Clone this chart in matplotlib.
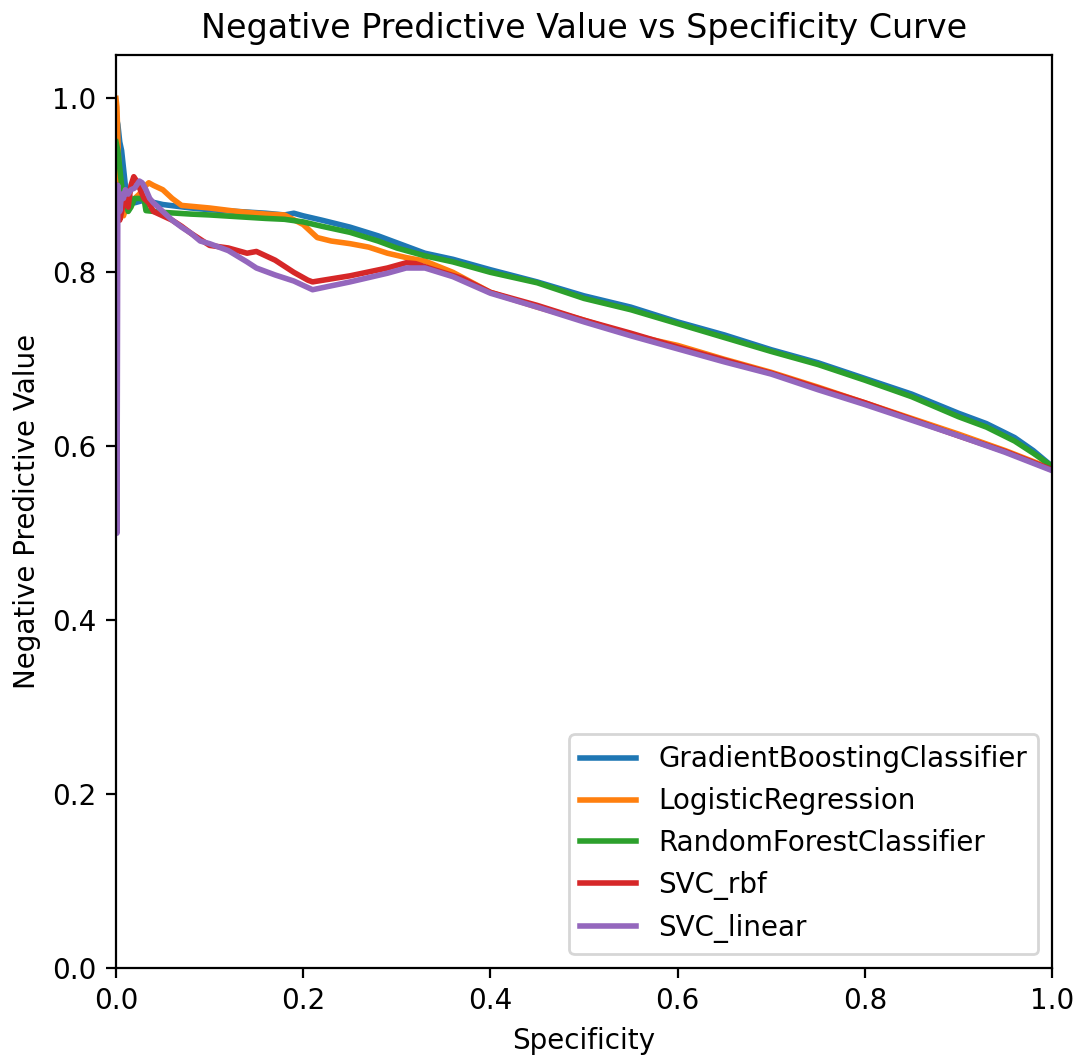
import matplotlib
matplotlib.use('Agg')
import matplotlib.pyplot as plt

labels = ['GradientBoostingClassifier', 'LogisticRegression',
          'RandomForestClassifier', 'SVC_rbf', 'SVC_linear']

gb_x = [0.0, 0.002, 0.004, 0.006, 0.008, 0.010, 0.013, 0.016, 0.020, 0.030, 0.05, 0.08, 0.10, 0.13,
        0.16, 0.18, 0.19, 0.20, 0.22, 0.25, 0.28, 0.30, 0.33, 0.36, 0.40, 0.45, 0.50, 0.55, 0.60,
        0.65, 0.70, 0.75, 0.80, 0.85, 0.90, 0.93, 0.96, 0.98, 1.0]
gb_y = [0.98, 0.97, 0.95, 0.94, 0.92, 0.90, 0.89, 0.885, 0.88, 0.883, 0.878, 0.874, 0.872, 0.870,
        0.868, 0.866, 0.868, 0.865, 0.860, 0.852, 0.842, 0.834, 0.822, 0.815, 0.803, 0.789, 0.773, 0.760, 0.743,
        0.728, 0.711, 0.696, 0.678, 0.660, 0.638, 0.626, 0.610, 0.595, 0.577]

lr_x = [0.0, 0.001, 0.003, 0.005, 0.008, 0.011, 0.015, 0.02, 0.025, 0.03, 0.035, 0.04, 0.05, 0.06,
        0.07, 0.10, 0.13, 0.16, 0.18, 0.20, 0.215, 0.23, 0.25, 0.27, 0.29, 0.31, 0.33, 0.36,
        0.40, 0.45, 0.50, 0.55, 0.60, 0.65, 0.70, 0.75, 0.80, 0.85, 0.90, 0.95, 1.0]
lr_y = [1.0, 0.99, 0.92, 0.875, 0.865, 0.875, 0.88, 0.885, 0.89, 0.898, 0.903, 0.900, 0.895, 0.885,
        0.877, 0.874, 0.870, 0.867, 0.866, 0.855, 0.840, 0.836, 0.833, 0.829, 0.822, 0.817, 0.813, 0.800,
        0.777, 0.760, 0.745, 0.728, 0.716, 0.700, 0.685, 0.668, 0.650, 0.632, 0.614, 0.595, 0.574]

rf_x = [0.0, 0.002, 0.004, 0.006, 0.008, 0.010, 0.013, 0.016, 0.020, 0.025, 0.030, 0.032, 0.05, 0.08,
        0.10, 0.13, 0.16, 0.18, 0.20, 0.22, 0.25, 0.28, 0.30, 0.33, 0.36, 0.40, 0.45, 0.50,
        0.55, 0.60, 0.65, 0.70, 0.75, 0.80, 0.85, 0.90, 0.93, 0.96, 0.98, 1.0]
rf_y = [0.95, 0.94, 0.92, 0.90, 0.89, 0.885, 0.87, 0.875, 0.885, 0.885, 0.884, 0.871, 0.869, 0.867,
        0.866, 0.864, 0.862, 0.861, 0.858, 0.853, 0.846, 0.836, 0.828, 0.819, 0.812, 0.800, 0.788, 0.770,
        0.757, 0.741, 0.725, 0.709, 0.694, 0.676, 0.657, 0.634, 0.622, 0.606, 0.592, 0.577]

rbf_x = [0.0, 0.002, 0.004, 0.006, 0.008, 0.010, 0.013, 0.016, 0.019, 0.022, 0.026, 0.03, 0.035,
         0.04, 0.05, 0.06, 0.07, 0.08, 0.09, 0.10, 0.12, 0.14, 0.15, 0.17, 0.19, 0.205, 0.21,
         0.25, 0.29, 0.31, 0.32, 0.34, 0.37, 0.40, 0.45, 0.50, 0.55, 0.60, 0.65, 0.70, 0.75,
         0.80, 0.85, 0.90, 0.95, 1.0]
rbf_y = [0.90, 0.88, 0.86, 0.87, 0.88, 0.89, 0.875, 0.90, 0.91, 0.905, 0.895, 0.885, 0.88,
         0.870, 0.865, 0.860, 0.853, 0.845, 0.838, 0.831, 0.828, 0.822, 0.824, 0.814, 0.800, 0.791, 0.789,
         0.796, 0.805, 0.811, 0.810, 0.803, 0.793, 0.777, 0.762, 0.745, 0.730, 0.714, 0.699, 0.684, 0.667,
         0.650, 0.631, 0.612, 0.594, 0.573]

lin_x = [0.0, 0.001, 0.001, 0.002, 0.004, 0.006, 0.008, 0.010, 0.013, 0.016, 0.020, 0.025, 0.028,
         0.032, 0.036, 0.04, 0.05, 0.06, 0.07, 0.08, 0.09, 0.10, 0.12, 0.14, 0.15, 0.17, 0.19,
         0.21, 0.25, 0.29, 0.31, 0.33, 0.36, 0.40, 0.45, 0.50, 0.55, 0.60, 0.65, 0.70, 0.75,
         0.80, 0.85, 0.90, 0.95, 1.0]
lin_y = [0.90, 0.90, 0.50, 0.90, 0.87, 0.89, 0.885, 0.895, 0.89, 0.895, 0.897, 0.905, 0.903,
         0.895, 0.885, 0.880, 0.870, 0.860, 0.852, 0.845, 0.836, 0.833, 0.825, 0.812, 0.805, 0.797, 0.790,
         0.780, 0.789, 0.799, 0.805, 0.805, 0.795, 0.776, 0.760, 0.743, 0.727, 0.712, 0.697, 0.683, 0.665,
         0.648, 0.630, 0.612, 0.593, 0.572]

fig = plt.figure(figsize=(5.39, 5.275), dpi=200)
ax = fig.add_axes([0.1076, 0.0825, 0.8683, 0.8654])

series = [(gb_x, gb_y), (lr_x, lr_y), (rf_x, rf_y), (rbf_x, rbf_y), (lin_x, lin_y)]
for (xs, ys), name in zip(series, labels):
    ax.plot(xs, ys, lw=2, label=name)

ax.set_xlim(0, 1)
ax.set_ylim(0, 1.05)
ax.set_xlabel('Specificity')
ax.set_ylabel('Negative Predictive Value')
ax.set_title('Negative Predictive Value vs Specificity Curve')
ax.legend(loc='lower right')

fig.savefig('out.png', dpi=200)
